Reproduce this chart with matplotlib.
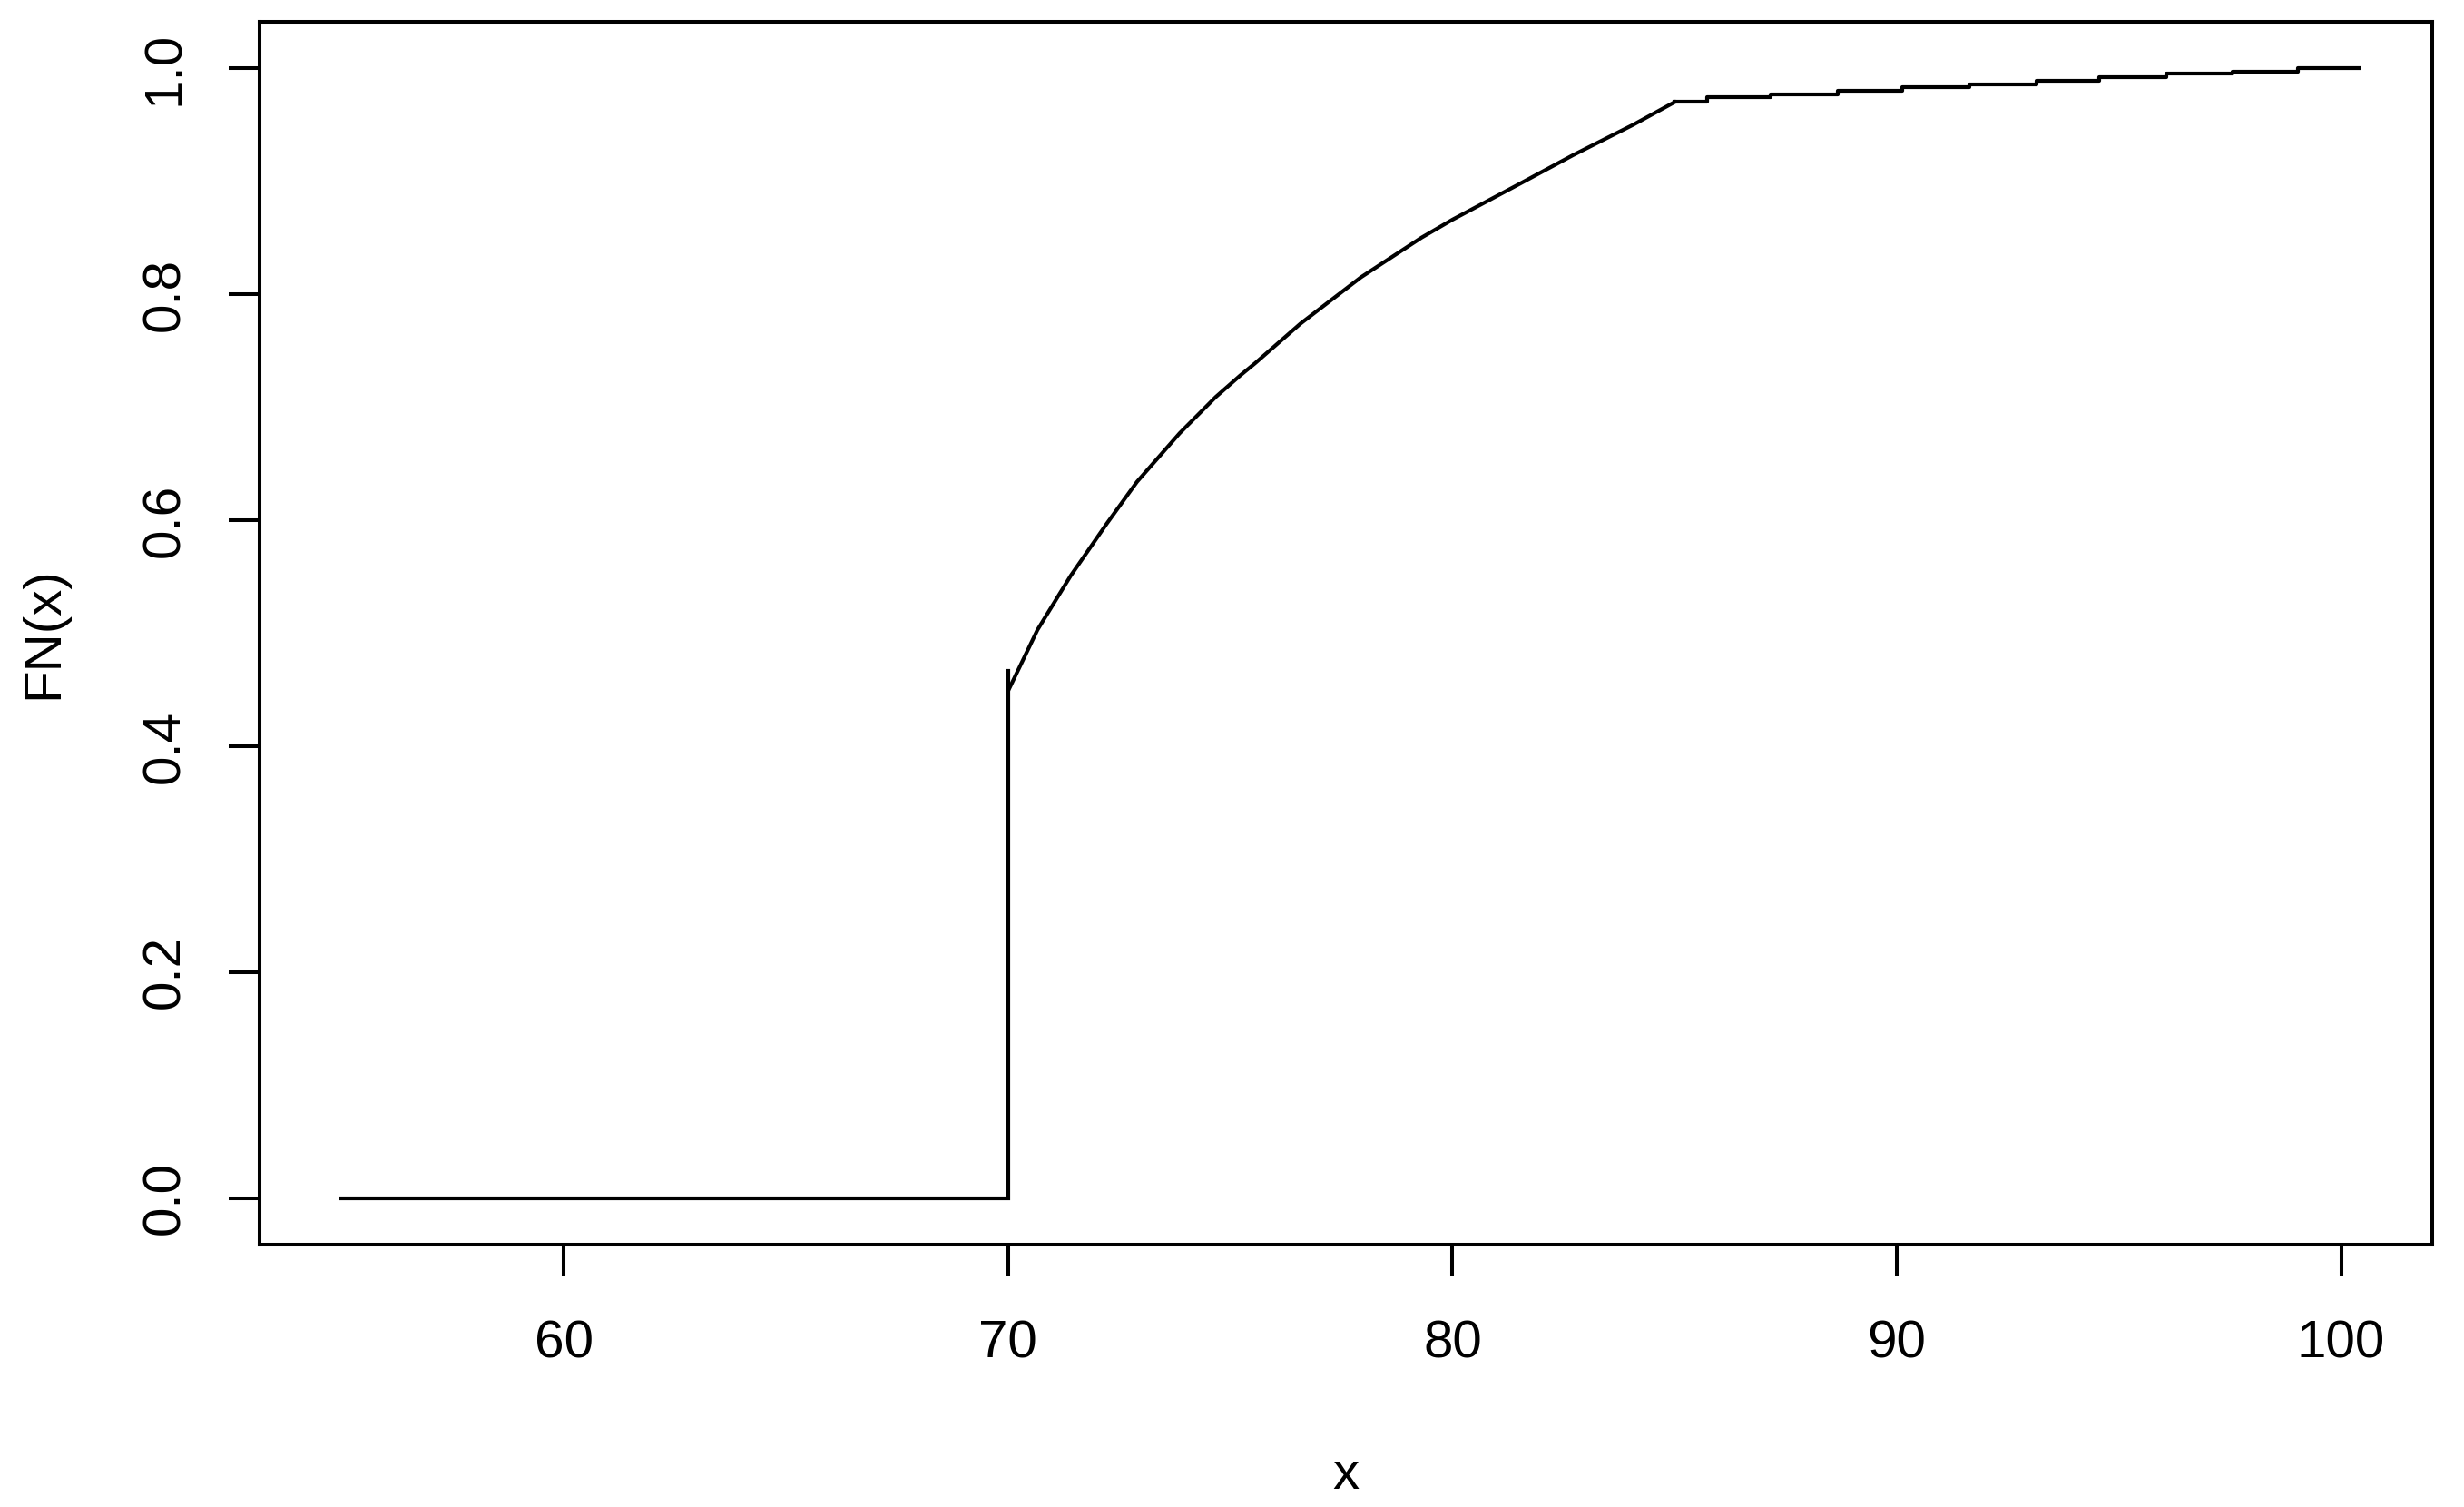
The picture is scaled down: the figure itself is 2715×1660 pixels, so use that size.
"""Empirical distribution function FN(x): flat at 0, jump at 70, concave rise, fine steps to 1."""

import matplotlib

matplotlib.use("Agg")
import matplotlib.pyplot as plt

plt.rcParams["font.family"] = ["Liberation Sans", "DejaVu Sans"]

# flat part and the jump at x = 70
base_x = [55.0, 70.0, 70.0]
base_y = [0.0, 0.0, 0.467]

# rising part
curve_x = [70.00, 70.66, 71.41, 72.22, 72.90, 73.86, 74.67, 75.22, 75.56, 76.58,
           77.94, 79.30, 80.00, 80.67, 81.48, 82.71, 84.07, 85.00]
curve_y = [0.449, 0.503, 0.551, 0.597, 0.634, 0.677, 0.709, 0.728, 0.739, 0.774,
           0.815, 0.850, 0.866, 0.880, 0.897, 0.923, 0.950, 0.970]

# tail: small steps up to 1
tail_x = [85.00, 85.73, 87.17, 88.67, 90.12, 91.63, 93.14, 94.56, 96.07, 97.56, 99.02, 100.40]
tail_y = [0.970, 0.974, 0.977, 0.980, 0.983, 0.986, 0.989, 0.992, 0.995, 0.997, 1.000, 1.000]

x_ticks = [60, 70, 80, 90, 100]
y_ticks = [0.0, 0.2, 0.4, 0.6, 0.8, 1.0]

fig = plt.figure(figsize=(27.15, 16.6), dpi=100)
ax = fig.add_axes([0.1053, 0.1741, 0.8818, 0.8114])

lw = 3.0
ax.plot(base_x, base_y, color="black", lw=lw, solid_joinstyle="miter")
ax.plot(curve_x, curve_y, color="black", lw=lw)
ax.plot(tail_x, tail_y, color="black", lw=lw, drawstyle="steps-post")

ax.set_xlim(53.15, 102.05)
ax.set_ylim(-0.041, 1.041)
ax.set_xticks(x_ticks)
ax.set_yticks(y_ticks)
ax.set_yticklabels([f"{v:.1f}" for v in y_ticks], rotation=90, va="center")

for s in ax.spines.values():
    s.set_linewidth(2.9)
ax.tick_params(axis="both", direction="out", length=24.5, width=2.9, labelsize=42)
ax.tick_params(axis="x", pad=35)
ax.tick_params(axis="y", pad=31)

ax.set_xlabel("x", fontsize=42, labelpad=65)
ax.set_ylabel("FN(x)", fontsize=42, labelpad=57)

fig.savefig("out.png", dpi=100)
plt.close(fig)
